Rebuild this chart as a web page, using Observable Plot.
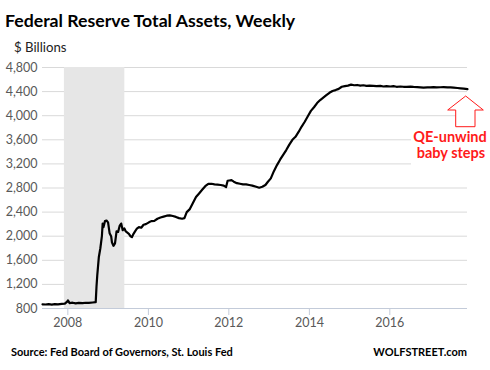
<!DOCTYPE html>
<html><head><meta charset="utf-8">
<script src="https://cdn.jsdelivr.net/npm/d3@7"></script>
<script src="https://cdn.jsdelivr.net/npm/@observablehq/plot@0.6"></script>
<style>
body{margin:0;background:#fff;}
#wrap{position:relative;width:490px;height:370px;font-family:Lato,sans-serif;background:#fff;}
#wrap svg.ov{position:absolute;left:0;top:0;}
</style></head><body><div id="wrap"></div>
<script>
const dates = [
"2007-05-16","2007-06-13","2007-07-11","2007-08-08","2007-09-05","2007-10-03","2007-11-07","2007-12-05","2007-12-26",
"2008-01-02","2008-01-16","2008-02-13","2008-03-12","2008-04-09","2008-05-14","2008-06-11","2008-07-09","2008-08-13",
"2008-09-10","2008-09-17","2008-09-24","2008-10-01","2008-10-08","2008-10-22","2008-11-05","2008-11-12","2008-11-19",
"2008-12-03","2008-12-17","2008-12-31","2009-01-14","2009-01-28","2009-02-04","2009-02-18","2009-03-04","2009-03-18",
"2009-04-01","2009-04-15","2009-04-29","2009-05-13","2009-05-27","2009-06-10","2009-06-24","2009-07-08","2009-07-22",
"2009-08-05","2009-08-19","2009-09-02","2009-09-16","2009-10-07","2009-10-28","2009-11-18","2009-12-09",
"2010-01-06","2010-01-27","2010-02-24","2010-03-24","2010-04-21","2010-05-19","2010-06-16","2010-07-14","2010-08-11",
"2010-09-08","2010-10-06","2010-11-03","2010-11-24","2010-12-15","2011-01-12","2011-02-09","2011-03-09","2011-04-06",
"2011-05-04","2011-06-01","2011-06-29","2011-07-27","2011-08-24","2011-09-21","2011-10-19","2011-11-16","2011-12-07",
"2011-12-21","2012-01-04","2012-01-25","2012-02-15","2012-03-14","2012-04-11","2012-05-09","2012-06-06","2012-07-04",
"2012-08-01","2012-09-05","2012-10-03","2012-10-31","2012-11-28","2012-12-19","2013-01-16","2013-02-13","2013-03-13",
"2013-04-10","2013-05-08","2013-06-05","2013-07-03","2013-07-31","2013-08-28","2013-09-25","2013-10-23","2013-11-20",
"2013-12-18","2014-01-15","2014-02-12","2014-03-12","2014-04-09","2014-05-07","2014-06-04","2014-07-02","2014-07-30",
"2014-08-27","2014-09-24","2014-10-22","2014-11-19","2014-12-17","2015-01-14","2015-02-11","2015-03-11","2015-04-08",
"2015-05-06","2015-06-03","2015-07-01","2015-08-05","2015-09-02","2015-10-07","2015-11-04","2015-12-02","2016-01-06",
"2016-02-03","2016-03-02","2016-04-06","2016-05-04","2016-06-01","2016-07-06","2016-08-03","2016-09-07","2016-10-05",
"2016-11-02","2016-12-07","2017-01-04","2017-02-01","2017-03-01","2017-04-05","2017-05-03","2017-06-07","2017-07-05",
"2017-08-02","2017-09-06","2017-10-04","2017-11-01","2017-12-06"
];
const assets = [
870,866,872,865,874,868,878,880,915,
935,890,896,884,892,888,895,892,900,
905,1160,1350,1500,1650,1800,2000,2210,2150,
2250,2260,2230,2050,2000,1900,1840,1880,2080,
2070,2170,2210,2100,2130,2080,2060,2040,2000,
1985,2040,2080,2120,2150,2140,2190,2200,
2230,2250,2255,2290,2310,2325,2340,2345,2335,
2320,2300,2290,2300,2400,2450,2550,2650,2710,
2770,2830,2870,2870,2860,2855,2850,2840,2815,
2920,2925,2930,2905,2880,2870,2860,2860,2850,
2840,2820,2805,2820,2850,2900,2960,3080,3180,
3270,3350,3430,3520,3600,3650,3730,3820,3900,
3990,4080,4140,4210,4260,4300,4340,4380,4410,
4425,4445,4480,4490,4500,4515,4505,4510,4500,
4505,4495,4500,4495,4490,4495,4485,4490,4485,
4490,4480,4485,4480,4478,4482,4478,4475,4470,
4465,4470,4470,4475,4470,4472,4475,4470,4470,
4465,4460,4455,4450,4440
];
const yTicks = [800,1200,1600,2000,2400,2800,3200,3600,4000,4400,4800];
const xTickYears = [2008,2010,2012,2014,2016];
const recessionStart = "2007-12-01";
const recessionEnd = "2009-06-01";
const titleText = "Federal Reserve Total Assets, Weekly";
const unitText = "$ Billions";
const sourceText = "Source: Fed Board of Governors, St. Louis Fed";
const brandText = "WOLFSTREET.com";
const noteLines = ["QE-unwind","baby steps"];

const data = dates.map((d,i)=>({date:new Date(d), value:assets[i]}));
const recession = [{start:new Date(recessionStart), end:new Date(recessionEnd)}];
const xTicks = xTickYears.map(y=>new Date(Date.UTC(y,0,1)));
const axisColor = "#c3cbd9";

const chart = Plot.plot({
  width:490, height:370,
  marginLeft:42, marginRight:23, marginTop:67, marginBottom:62,
  style:{fontFamily:"Lato, sans-serif", background:"white", overflow:"visible"},
  x:{type:"utc", domain:[data[0].date, data[data.length-1].date]},
  y:{domain:[800,4800]},
  marks:[
    Plot.gridY(yTicks,{stroke:"#d9d9d9", strokeOpacity:1}),
    Plot.rect(recession,{x1:"start", x2:"end", y1:800, y2:4800, fill:"#e6e6e6"}),
    Plot.ruleY([800],{stroke:axisColor}),
    Plot.axisY(yTicks,{tickSize:0, tickPadding:5, tickFormat:d3.format(","), fill:"#595959", fontSize:12.5, label:null}),
    Plot.axisX(xTicks,{tickSize:7, tickPadding:3, stroke:axisColor, tickFormat:d=>String(d.getUTCFullYear()), fill:"#595959", fontSize:12.5, label:null}),
    Plot.line(data,{x:"date", y:"value", stroke:"black", strokeWidth:2.2})
  ]
});
const wrap = document.getElementById("wrap");
wrap.appendChild(chart);

const ns = "http://www.w3.org/2000/svg";
const ov = document.createElementNS(ns,"svg");
ov.setAttribute("class","ov");
ov.setAttribute("width",490); ov.setAttribute("height",370);
ov.style.fontFamily = "Lato, sans-serif";
function txt(s,x,y,opts){
  const t = document.createElementNS(ns,"text");
  t.textContent = s;
  t.setAttribute("x",x); t.setAttribute("y",y);
  for (const k in opts) t.setAttribute(k,opts[k]);
  ov.appendChild(t); return t;
}
txt(titleText,5,27,{"font-size":17.7,"font-weight":"bold",fill:"#000"});
txt(unitText,14,52,{"font-size":13.2,fill:"#222"});
txt(sourceText,11,356,{"font-size":11,"font-weight":"bold",fill:"#000"});
txt(brandText,467,356,{"font-size":11,"font-weight":"bold",fill:"#000","text-anchor":"end"});
// annotation
const box = document.createElementNS(ns,"rect");
box.setAttribute("x",411); box.setAttribute("y",128); box.setAttribute("width",79); box.setAttribute("height",37); box.setAttribute("fill","white");
ov.appendChild(box);
const arrow = document.createElementNS(ns,"polygon");
arrow.setAttribute("points","465.7,96 483.3,110 475,110 475,126.7 455.7,126.7 455.7,110 447.7,110");
arrow.setAttribute("fill","white"); arrow.setAttribute("stroke","#ff1a1a"); arrow.setAttribute("stroke-width",1);
ov.appendChild(arrow);
txt(noteLines[0],450,142,{"font-size":14.5,"font-weight":"bold",fill:"#ff1a1a","text-anchor":"middle"});
txt(noteLines[1],451,157.5,{"font-size":14.5,"font-weight":"bold",fill:"#ff1a1a","text-anchor":"middle"});
wrap.appendChild(ov);
</script></body></html>
